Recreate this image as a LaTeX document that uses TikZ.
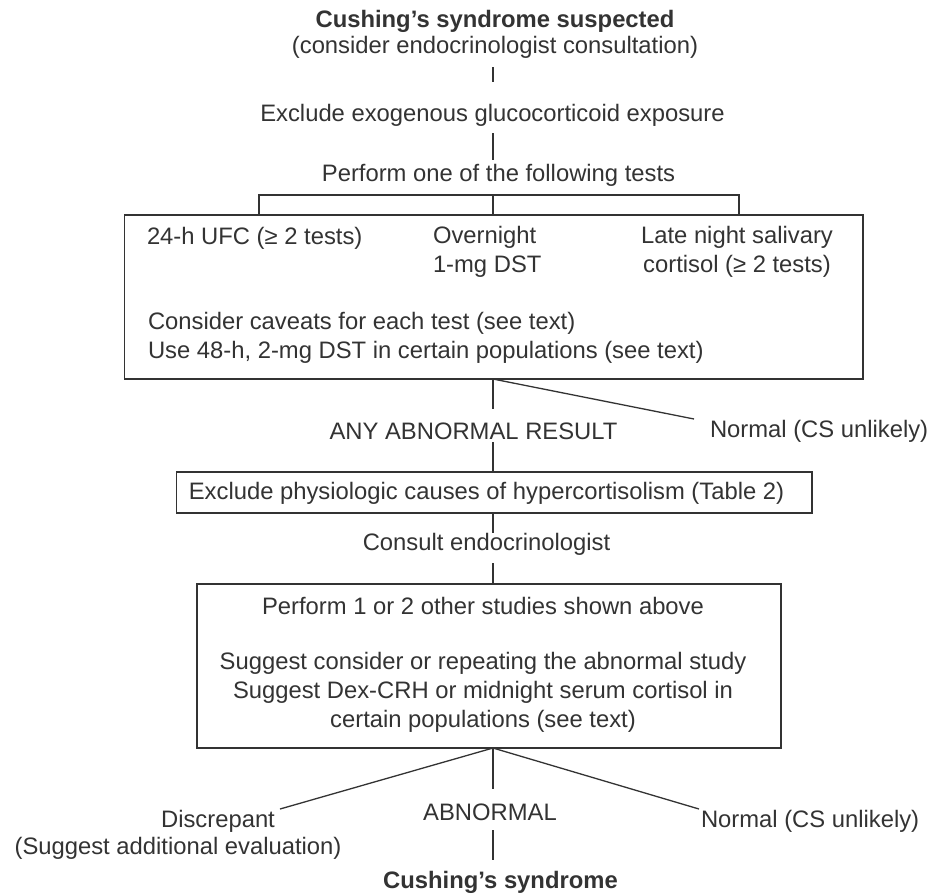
\documentclass[tikz,border=0pt]{standalone}
\usepackage{fontspec}
\setmainfont{Liberation Sans}
\usetikzlibrary{calc}
\definecolor{ink}{HTML}{333333}
\begin{document}
\begin{tikzpicture}[x=1pt,y=-1pt,
  every node/.style={inner sep=0pt, outer sep=0pt, text=ink,
    font=\fontsize{23.8}{29}\selectfont},
  heading/.style={font=\fontsize{23.8}{29}\selectfont\bfseries},
  frame/.style={draw=ink, line width=1.3pt, rectangle},
  link/.style={draw=ink, line width=1.3pt}]
\useasboundingbox (0,0) rectangle (933,895);
\fill[white] (0,0) rectangle (933,895);

% vertical axis of the flow
\coordinate (ax) at (493,0);

% ---- opening steps
\node[heading] (title) at (495,21) {Cushing’s syndrome suspected};
\node (consider) at (495,47) {(consider endocrinologist consultation)};
\node (excl) at (492.5,115) {Exclude exogenous glucocorticoid exposure};
\node (perform) at (498.5,175) {Perform one of the following tests};

% ---- first-line tests
\node[frame, minimum width=738.5pt, minimum height=164pt] (box1) at (493.75,297) {};
\node[anchor=west] (ufc) at (147,238) {24-h UFC (≥ 2 tests)};
\node[anchor=west, align=left] (dst) at (433,252) {Overnight\\1-mg DST};
\node[align=center] (saliva) at (737,252) {Late night salivary\\cortisol (≥ 2 tests)};
\node[anchor=west, align=left] (caveat) at (148,337.5)
  {Consider caveats for each test (see text)\\Use 48-h, 2-mg DST in certain populations (see text)};

\node (anyab) at (473.5,431) {ANY ABNORMAL RESULT};
\node[anchor=west] (normal1) at (710,431) {Normal (CS unlikely)};
\coordinate (n1tip) at (694,419);

% ---- physiologic causes and consultation
\node[frame, minimum width=635.5pt, minimum height=41pt] (box2) at (494.25,492.5) {};
\node (physio) at (486.5,493) {Exclude physiologic causes of hypercortisolism (Table 2)};
\node (consult) at (486.5,544) {Consult endocrinologist};

% ---- second-line studies
\node[frame, minimum width=584pt, minimum height=164pt] (box3) at (489,666) {};
\node (other) at (483,606) {Perform 1 or 2 other studies shown above};
\node[align=center] (suggest) at (483,692)
  {Suggest consider or repeating the abnormal study\\Suggest Dex-CRH or midnight serum cortisol in\\certain populations (see text)};

% ---- outcomes
\node (disc) at (218,821) {Discrepant};
\node (disc2) at (178,848) {(Suggest additional evaluation)};
\coordinate (dtip) at (280,809);
\node (abn) at (490,812) {ABNORMAL};
\node[anchor=west] (normal2) at (701,821) {Normal (CS unlikely)};
\coordinate (n2tip) at (699,809);
\node[heading] (cs) at (500.5,882) {Cushing’s syndrome};

% ---- connectors
\draw[link, shorten <=20pt, shorten >=33pt] (consider -| ax) -- (excl -| ax);
\draw[link, shorten <=18pt, shorten >=15pt] (excl -| ax) -- (perform -| ax);

% bracket feeding the three tests
\coordinate (brL) at (259,195);
\coordinate (brR) at (739,195);
\draw[link] (box1.north -| brL) -- (brL) -- (brR) -- (box1.north -| brR);
\draw[link] (brL -| ax) -- (box1.north -| ax);

\draw[link, shorten >=22pt] (box1.south -| ax) -- (anyab -| ax);
\draw[link, shorten <=11pt] (anyab -| ax) -- (box2.north -| ax);
\draw[link] (box1.south -| ax) -- (n1tip);

\draw[link, shorten >=11pt] (box2.south -| ax) -- (consult -| ax);
\draw[link, shorten <=19pt] (consult -| ax) -- (box3.north -| ax);

\draw[link] (box3.south -| ax) -- (dtip);
\draw[link, shorten >=23pt] (box3.south -| ax) -- (abn -| ax);
\draw[link] (box3.south -| ax) -- (n2tip);
\draw[link, shorten <=18pt, shorten >=22pt] (abn -| ax) -- (cs -| ax);
\end{tikzpicture}
\end{document}
